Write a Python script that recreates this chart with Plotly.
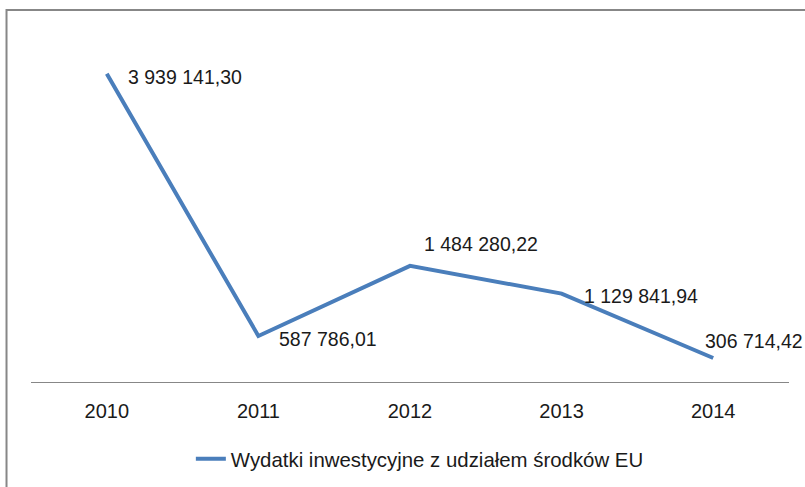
import plotly.graph_objects as go

years = ["2010", "2011", "2012", "2013", "2014"]
values = [3939141.30, 587786.01, 1484280.22, 1129841.94, 306714.42]
labels = ["3 939 141,30", "587 786,01", "1 484 280,22", "1 129 841,94", "306 714,42"]
series_name = "Wydatki inwestycyjne z udziałem środków EU"

# label offsets (px) relative to each point
xshifts = [19, 19, 12, 20, -10]
yshifts = [-3, -3, 22, -2, 17]

FONT = "Liberation Sans, Arial, sans-serif"
BLUE = "#4A7EBB"
TXT = "#1a1a1a"

fig = go.Figure()
fig.add_trace(go.Scatter(
    x=years, y=values, mode="lines", name=series_name,
    line=dict(color=BLUE, width=4),
))

for i, (v, t, xs, ys) in enumerate(zip(values, labels, xshifts, yshifts)):
    fig.add_annotation(x=i, y=v, xref="x", yref="y", text=t, showarrow=False,
                       xanchor="left", yanchor="middle", xshift=xs, yshift=ys,
                       font=dict(family=FONT, size=19.5, color=TXT))

# outer chart frame (top and left visible)
fig.add_shape(type="rect", xref="paper", yref="paper",
              x0=-0.0323, x1=1.2, y0=-0.6, y1=1.0568,
              line=dict(color="#878787", width=2), fillcolor="rgba(0,0,0,0)",
              layer="below")

fig.update_layout(
    width=805, height=487,
    margin=dict(l=31, r=16, t=30, b=105, autoexpand=False),
    paper_bgcolor="white", plot_bgcolor="white",
    font=dict(family=FONT, size=20, color=TXT),
    showlegend=True,
    legend=dict(orientation="h", x=0.513, xanchor="center", y=-0.219, yanchor="middle",
                font=dict(family=FONT, size=20.4, color=TXT), bgcolor="rgba(0,0,0,0)"),
    xaxis=dict(type="category", range=[-0.5, 4.5], showline=True, linecolor="#878787", linewidth=1,
               showgrid=False, zeroline=False, ticks="", ticklabelstandoff=11,
               tickfont=dict(family=FONT, size=20, color=TXT)),
    yaxis=dict(range=[0, 4500000], visible=False, showgrid=False, zeroline=False),
)

fig.write_html("out.html", config={"displayModeBar": False},
               post_script="document.body.style.margin='0';document.body.style.overflow='hidden';")
